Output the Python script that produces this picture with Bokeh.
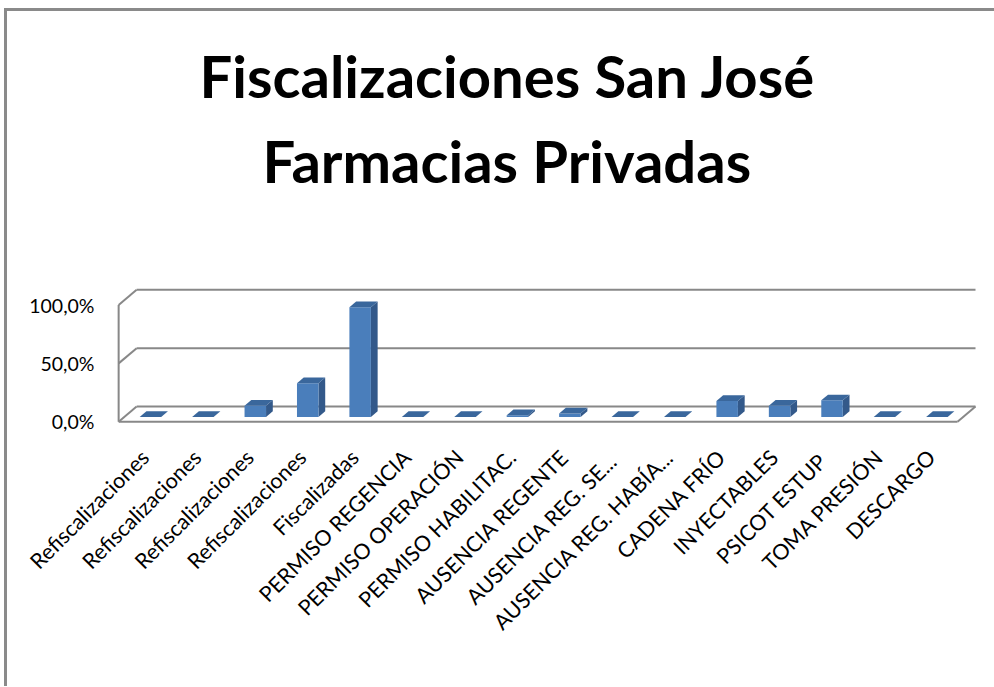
from math import pi
from bokeh.plotting import figure
from bokeh.models import Range1d, FixedTicker, Title
from bokeh.embed import file_html
from bokeh.resources import INLINE

# ---------------- data ----------------
title_line1 = "Fiscalizaciones San José"
title_line2 = "Farmacias Privadas"

categories = [
    "Refiscalizaciones", "Refiscalizaciones", "Refiscalizaciones", "Refiscalizaciones",
    "Fiscalizadas", "PERMISO REGENCIA", "PERMISO OPERACIÓN", "PERMISO HABILITAC.",
    "AUSENCIA REGENTE", "AUSENCIA REG.  SE...", "AUSENCIA REG. HABÍA...", "CADENA FRÍO",
    "INYECTABLES", "PSICOT  ESTUP", "TOMA PRESIÓN", "DESCARGO",
]
values = [0.0, 0.0, 9.7, 29.0, 94.0, 0.0, 0.0, 1.5, 3.0, 0.0, 0.0, 13.7, 9.7, 14.3, 0.0, 0.0]

y_ticks = [0, 50, 100]
y_tick_labels = ["0,0%", "50,0%", "100,0%"]

# ---------------- 3-D look parameters (data units) ----------------
DX, DY = 0.343, 13.0          # depth of the whole box
BAR_W = 0.41                  # bar front width
BAR_F = 0.31                  # depth fraction where bar front sits
BAR_D = 0.375                 # bar depth as fraction of box depth

FRONT = "#4A7EBB"
TOP = "#3A679C"
SIDE = "#33598A"
GRID = "#888888"
FONT = "Lato"

n = len(categories)
x_lo, x_hi = -0.5, n - 0.5

p = figure(frame_width=863, frame_height=136, output_backend="svg", toolbar_location=None,
           x_range=Range1d(-0.56, 15.9), y_range=Range1d(-1.5, 115),
           min_border_left=108, min_border_right=16, min_border_top=276,
           min_border_bottom=263, title=title_line1)
p.styles = {"margin-left": "4px", "margin-top": "8px",
            "border-top": "3px solid #8a8a8a", "border-left": "3px solid #8a8a8a"}

p.title.text_font = FONT
p.title.text_font_style = "bold"
p.title.text_font_size = "58px"
p.title.align = "left"
p.title.offset = 84
p.title.text_color = "black"
p.title.standoff = 14
# empty spacer between the second title line and the chart (closest to the frame)
p.add_layout(Title(text=" ", text_font_size="1px", standoff=83), "above")
p.add_layout(Title(text=title_line2, text_font=FONT, text_font_style="bold",
                   text_font_size="58px", align="left", offset=147,
                   standoff=14, text_color="black"), "above")

p.xgrid.visible = False
p.ygrid.visible = False
p.outline_line_color = None
p.background_fill_color = "white"
p.border_fill_color = "white"

# ---------------- walls / floor ----------------
p.multi_line(xs=[[x_lo + DX, x_hi + DX] for _ in y_ticks],
             ys=[[t + DY, t + DY] for t in y_ticks], line_color=GRID, line_width=2)
p.multi_line(xs=[[x_lo, x_lo + DX] for _ in y_ticks],
             ys=[[t, t + DY] for t in y_ticks], line_color=GRID, line_width=2)
p.multi_line(xs=[[x_lo, x_lo], [x_lo, x_hi], [x_hi, x_hi + DX]],
             ys=[[y_ticks[0], y_ticks[-1]], [0, 0], [0, DY]], line_color=GRID, line_width=2)

# ---------------- bars ----------------
xc = [i + BAR_F * DX for i in range(n)]
y0 = BAR_F * DY
bdx, bdy = BAR_D * DX, BAR_D * DY
left = [c - BAR_W / 2 for c in xc]
right = [c + BAR_W / 2 for c in xc]
tops = [y0 + v for v in values]

side_xs = [[r, r + bdx, r + bdx, r] for r in right]
side_ys = [[y0, y0 + bdy, t + bdy, t] for t in tops]
p.patches(side_xs, side_ys, fill_color=SIDE, line_color=None)

p.quad(left=left, right=right, bottom=[y0] * n, top=tops, fill_color=FRONT, line_color=None)

top_xs = [[l, r, r + bdx, l + bdx] for l, r in zip(left, right)]
top_ys = [[t, t, t + bdy, t + bdy] for t in tops]
p.patches(top_xs, top_ys, fill_color=TOP, line_color=None)

# ---------------- axes ----------------
xa = p.xaxis[0]
xa.ticker = FixedTicker(ticks=list(range(n)))
xa.major_label_overrides = {i: c for i, c in enumerate(categories)}
xa.major_label_orientation = pi / 4
xa.axis_line_color = None
xa.major_tick_line_color = None
xa.minor_tick_line_color = None
xa.major_label_text_font = FONT
xa.major_label_text_font_size = "21.5px"
xa.major_label_text_color = "black"
xa.major_label_standoff = 24

ya = p.yaxis[0]
ya.ticker = FixedTicker(ticks=y_ticks)
ya.major_label_overrides = {t: l for t, l in zip(y_ticks, y_tick_labels)}
ya.axis_line_color = None
ya.major_tick_line_color = None
ya.minor_tick_line_color = None
ya.major_label_text_font = FONT
ya.major_label_text_font_size = "19.5px"
ya.major_label_text_color = "black"
ya.major_label_standoff = 15

open("out.html", "w").write(file_html(p, INLINE))
